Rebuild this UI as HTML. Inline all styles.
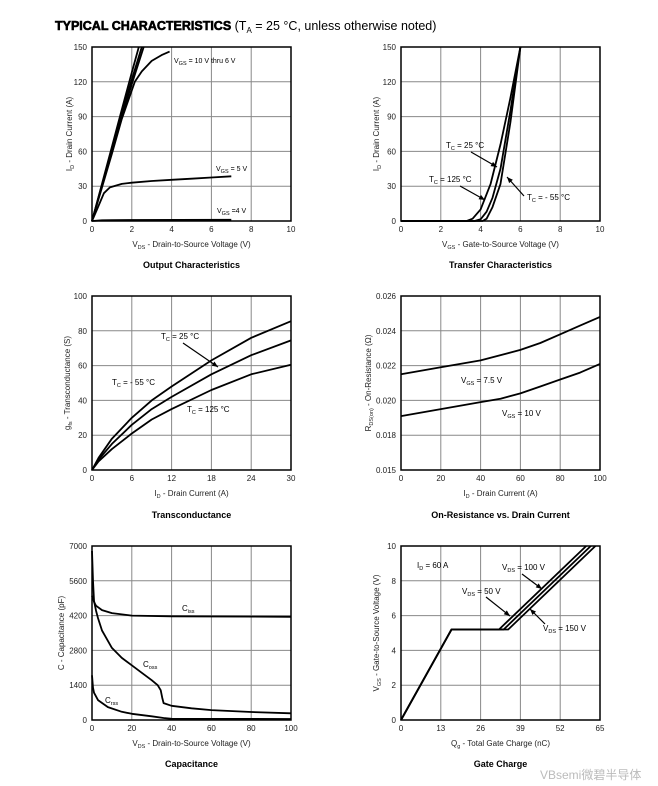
<!DOCTYPE html>
<html><head><meta charset="utf-8">
<style>
html,body{margin:0;padding:0;background:#fff;}
body{width:658px;height:786px;position:relative;overflow:hidden;font-family:"Liberation Sans",Arial,sans-serif;}
svg{position:absolute;left:0;top:0;}
</style></head>
<body>
<svg id="s" width="658" height="786" viewBox="0 0 658 786" font-family="Liberation Sans, Arial, sans-serif">
<text x="55" y="30" font-size="12.5" fill="#000"><tspan font-weight="bold" stroke="#000" stroke-width="0.6">TYPICAL CHARACTERISTICS </tspan><tspan>(T</tspan><tspan font-size="8" dy="3">A</tspan><tspan dy="-3"> = 25 °C, unless otherwise noted)</tspan></text>
<text x="540" y="779" font-size="12" fill="#bbb">VBsemi微碧半导体</text>
</svg>
<script>
// ---- Output characteristics data ----
const outX = [0,2,4,6,8,10];
const outYTicks = [0,30,60,90,120,150];
const outV10 = [[0,0],[0.5,32],[1,64],[1.5,96],[2,128],[2.35,150]];
const outV8 = [[0,0],[0.5,31],[1,62],[1.5,93],[2,122],[2.5,150]];
const outV7 = [[0,0],[0.5,30],[1,60],[1.5,90],[2,118],[2.6,150]];
const outV6 = [[0,0],[0.5,29],[1,58],[1.5,88],[2.15,120],[2.5,129],[3,138],[3.5,143],[3.9,146]];
const outV5 = [[0,0],[0.3,12],[0.6,24],[0.9,29],[1.5,32],[2,33],[3,34.5],[4,35.5],[5,36.5],[6,37.5],[7,38.5]];
const outV4 = [[0,0],[0.5,0.6],[1,0.8],[7,1]];
// ---- Transfer ----
const trX = [0,2,4,6,8,10];
const trYTicks = [0,30,60,90,120,150];
const tr25 = [[0,0],[3.7,0],[4,1.5],[4.3,8],[4.6,20],[5,45],[5.5,95],[6,150]];
const trM55 = [[0,0],[4.1,0],[4.3,2],[4.6,12],[5,32],[5.5,85],[6,150]];
const tr125 = [[0,0],[3.3,0],[3.6,2],[4,10],[4.5,32],[5,66],[5.5,106],[6,150]];
// ---- Transconductance ----
const gX = [0,6,12,18,24,30];
const gYTicks = [0,20,40,60,80,100];
const gM55 = [[0,0],[1,7],[3,18],[6,30],[9,40],[12,48],[18,63],[24,76],[30,85.5]];
const g25 = [[0,0],[1,6],[3,15],[6,26],[9,35],[12,42],[18,55],[24,66],[30,74.5]];
const g125 = [[0,0],[1,5],[3,12],[6,21],[9,29],[12,35],[18,46],[24,55],[30,60.5]];
// ---- On-resistance (axis drawn with equal tick spacing, bottom labelled 0.015) ----
const rX = [0,20,40,60,80,100];
const rYTicks = [0.016,0.018,0.020,0.022,0.024,0.026];
const rYLabels = ['0.015','0.018','0.020','0.022','0.024','0.026'];
const r75 = [[0,0.0215],[20,0.0219],[40,0.0223],[60,0.0229],[70,0.0233],[80,0.0238],[90,0.0243],[100,0.0248]];
const r10 = [[0,0.0191],[20,0.0195],[40,0.0199],[50,0.0201],[60,0.0204],[70,0.0208],[80,0.0212],[90,0.0216],[100,0.0221]];
// ---- Capacitance ----
const cX = [0,20,40,60,80,100];
const cYTicks = [0,1400,2800,4200,5600,7000];
const cIss = [[0,5000],[1,4750],[2,4600],[5,4420],[10,4300],[20,4200],[40,4170],[100,4150]];
const cOss = [[0,6800],[0.5,5600],[1,4800],[2,4400],[3,4100],[5,3600],[10,2900],[15,2500],[20,2200],[25,1900],[30,1600],[33,1400],[34.5,1200],[35.3,900],[36,680],[40,570],[50,470],[60,400],[80,320],[100,270]];
const cRss = [[0,1800],[0.5,1300],[1,1100],[3,800],[8,520],[15,330],[20,250],[30,150],[36,80],[40,50],[100,40]];
// ---- Gate charge ----
const qX = [0,13,26,39,52,65];
const qYTicks = [0,2,4,6,8,10];
const q50 = [[0,0],[16.5,5.2],[32,5.2],[60.5,10]];
const q100 = [[0,0],[16.5,5.2],[33.5,5.2],[62,10]];
const q150 = [[0,0],[16.5,5.2],[35,5.2],[63.5,10]];

const NS='http://www.w3.org/2000/svg';
const svg=document.getElementById('s');
function el(tag,attrs,parent){const e=document.createElementNS(NS,tag);for(const k in attrs)e.setAttribute(k,attrs[k]);(parent||svg).appendChild(e);return e;}

function chart(o){
  const g=el('g',{});
  
  
  const L=o.box[0],T=o.box[1],R=o.box[2],B=o.box[3];
  const xmin=o.xt[0],xmax=o.xt[o.xt.length-1],ymin=o.yt[0],ymax=o.yt[o.yt.length-1];
  const sx=v=>L+(v-xmin)/(xmax-xmin)*(R-L);
  const sy=v=>B-(v-ymin)/(ymax-ymin)*(B-T);
  o.xt.forEach((v,i)=>{
    if(i>0&&i<o.xt.length-1){const ln=el('line',{x1:sx(v),x2:sx(v),y1:T,y2:B,stroke:'#888','stroke-width':1},g);
    
    }
    const t=el('text',{x:sx(v),y:B+11,'font-size':8,'text-anchor':'middle',fill:'#222'},g);t.textContent=v;
    
    
  });
  o.yt.forEach((v,i)=>{
    if(i>0&&i<o.yt.length-1){const ln=el('line',{x1:L,x2:R,y1:sy(v),y2:sy(v),stroke:'#888','stroke-width':1},g);
    
    }
    const t=el('text',{x:L-5,y:sy(v)+3,'font-size':8,'text-anchor':'end',fill:'#222'},g);t.textContent=o.ylab?o.ylab[i]:v;
    
    
  });
  const fr=el('rect',{x:L,y:T,width:R-L,height:B-T,fill:'none',stroke:'#000','stroke-width':1.5},g);
  
  
  o.series.forEach(s=>{
    const p=el('polyline',{points:s.d.map(q=>sx(q[0]).toFixed(1)+','+sy(Math.min(q[1],ymax)).toFixed(1)).join(' '),fill:'none',stroke:'#000','stroke-width':1.8,'stroke-linejoin':'round'},g);
    
    
  });
  const xl=el('text',{x:(L+R)/2,y:B+26,'font-size':8,'text-anchor':'middle',fill:'#222'},g);xl.innerHTML=o.xl;
  
  
  const yx=L-o.yoff,yy=(T+B)/2;
  const yl=el('text',{x:yx,y:yy,'font-size':8,'text-anchor':'middle',fill:'#222',transform:`rotate(-90 ${yx} ${yy})`},g);yl.innerHTML=o.yl;
  
  
  const ti=el('text',{x:(L+R)/2,y:o.ty,'font-size':9,'font-weight':'bold','text-anchor':'middle',fill:'#000'},g);ti.textContent=o.title;
  
  
  (o.labels||[]).forEach(lb=>{
    const t=el('text',{x:lb[0],y:lb[1],'font-size':lb[3]||8,fill:'#000'},g);t.innerHTML=lb[2];
    
    
  });
  (o.arrows||[]).forEach(a=>{
    const ln=el('line',{x1:a[0],y1:a[1],x2:a[2],y2:a[3],stroke:'#000','stroke-width':1.2},g);
    
    
    const ang=Math.atan2(a[3]-a[1],a[2]-a[0]),h=6,w=2.5;
    const bx=a[2]-h*Math.cos(ang),by=a[3]-h*Math.sin(ang);
    const hd=el('polygon',{points:`${a[2]},${a[3]} ${bx-w*Math.sin(ang)},${by+w*Math.cos(ang)} ${bx+w*Math.sin(ang)},${by-w*Math.cos(ang)}`,fill:'#000'},g);
    
    
  });
}
const sub=(a,b)=>`${a}<tspan font-size="5.5" dy="2">${b}</tspan><tspan dy="-2">`;
chart({name:'output-characteristics-chart',box:[92,47,291,221],xt:outX,yt:outYTicks,
  series:[{n:'vgs-10v',d:outV10},{n:'vgs-8v',d:outV8},{n:'vgs-7v',d:outV7},{n:'vgs-6v',d:outV6},{n:'vgs-5v',d:outV5},{n:'vgs-4v',d:outV4}],
  xl:sub('V','DS')+' - Drain-to-Source Voltage (V)</tspan>',yl:sub('I','D')+' - Drain Current (A)</tspan>',yoff:20,title:'Output Characteristics',ty:268,
  labels:[[174,63,sub('V','GS')+' = 10 V thru 6 V</tspan>',7],[216,171,sub('V','GS')+' = 5 V</tspan>',7],[217,213,sub('V','GS')+' =4 V</tspan>',7]]});
chart({name:'transfer-characteristics-chart',box:[401,47,600,221],xt:trX,yt:trYTicks,
  series:[{n:'tc-25c',d:tr25},{n:'tc-minus55c',d:trM55},{n:'tc-125c',d:tr125}],
  xl:sub('V','GS')+' - Gate-to-Source Voltage (V)</tspan>',yl:sub('I','D')+' - Drain Current (A)</tspan>',yoff:22,title:'Transfer Characteristics',ty:268,
  labels:[[446,148,sub('T','C')+' = 25 °C</tspan>'],[429,182,sub('T','C')+' = 125 °C</tspan>'],[527,200,sub('T','C')+' = - 55 °C</tspan>']],
  arrows:[[471,152,497,167],[460,186,485,200],[524,196,507,177]]});
chart({name:'transconductance-chart',box:[92,296,291,470],xt:gX,yt:gYTicks,
  series:[{n:'tc-minus55c',d:gM55},{n:'tc-25c',d:g25},{n:'tc-125c',d:g125}],
  xl:sub('I','D')+' - Drain Current (A)</tspan>',yl:sub('g','fs')+' - Transconductance (S)</tspan>',yoff:22,title:'Transconductance',ty:518,
  labels:[[161,339,sub('T','C')+' = 25 °C</tspan>'],[112,385,sub('T','C')+' = - 55 °C</tspan>'],[187,412,sub('T','C')+' = 125 °C</tspan>']],
  arrows:[[183,343,218,367]]});
chart({name:'on-resistance-chart',box:[401,296,600,470],xt:rX,yt:rYTicks,ylab:rYLabels,
  series:[{n:'vgs-7-5v',d:r75},{n:'vgs-10v',d:r10}],
  xl:sub('I','D')+' - Drain Current (A)</tspan>',yl:sub('R','DS(on)')+' - On-Resistance (Ω)</tspan>',yoff:30,title:'On-Resistance vs. Drain Current',ty:518,
  labels:[[461,383,sub('V','GS')+' = 7.5 V</tspan>'],[502,416,sub('V','GS')+' = 10 V</tspan>']]});
chart({name:'capacitance-chart',box:[92,546,291,720],xt:cX,yt:cYTicks,
  series:[{n:'ciss',d:cIss},{n:'coss',d:cOss},{n:'crss',d:cRss}],
  xl:sub('V','DS')+' - Drain-to-Source Voltage (V)</tspan>',yl:'C - Capacitance (pF)',yoff:28,title:'Capacitance',ty:767,
  labels:[[182,611,sub('C','iss')+'</tspan>'],[143,667,sub('C','oss')+'</tspan>'],[105,703,sub('C','rss')+'</tspan>']]});
chart({name:'gate-charge-chart',box:[401,546,600,720],xt:qX,yt:qYTicks,
  series:[{n:'vds-50v',d:q50},{n:'vds-100v',d:q100},{n:'vds-150v',d:q150}],
  xl:sub('Q','g')+' - Total Gate Charge (nC)</tspan>',yl:sub('V','GS')+' - Gate-to-Source Voltage (V)</tspan>',yoff:22,title:'Gate Charge',ty:767,
  labels:[[417,568,sub('I','D')+' = 60 A</tspan>'],[502,570,sub('V','DS')+' = 100 V</tspan>'],[462,594,sub('V','DS')+' = 50 V</tspan>'],[543,631,sub('V','DS')+' = 150 V</tspan>']],
  arrows:[[522,574,542,589],[486,597,510,616],[545,624,530,609]]});
</script>
</body></html>
